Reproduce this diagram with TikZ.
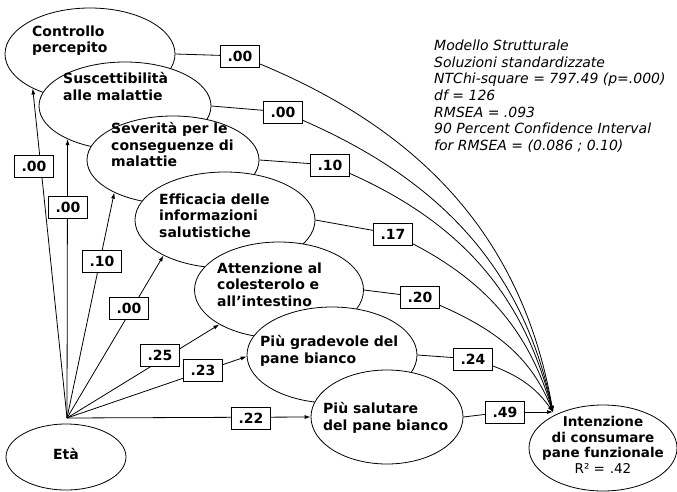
\documentclass[tikz,border=0pt]{standalone}
\usepackage{fontspec}
\setmainfont{DejaVu Sans}[Ligatures=NoCommon]
\usetikzlibrary{shapes.geometric,arrows.meta}
\pgfdeclarelayer{background}
\pgfsetlayers{background,main}
\begin{document}
\begin{tikzpicture}[x=1pt,y=1pt,
  ell/.style={draw,ellipse,fill=white,line width=0.8pt,inner sep=0pt},
  lab/.style={draw,fill=white,line width=0.8pt,minimum width=39pt,minimum height=22pt,inner sep=0pt,font=\fontsize{14}{16}\selectfont\bfseries},
  etxt/.style={anchor=north west,inner sep=0pt,align=left,font=\fontsize{14}{16.5}\selectfont\bfseries},
  conn/.style={line width=0.8pt},
  arr/.style={line width=0.8pt,-{Latex[length=6pt,width=4pt]}}]
\useasboundingbox (0,0) rectangle (677,-492);

% ellipses
\node[ell,minimum width=170pt,minimum height=92pt] (e1) at (90,-54) {};
\node[ell,minimum width=172pt,minimum height=88pt] (e2) at (125,-106) {};
\node[ell,minimum width=172pt,minimum height=88pt] (e3) at (173,-160) {};
\node[ell,minimum width=180pt,minimum height=96pt] (e4) at (225,-220) {};
\node[ell,minimum width=169pt,minimum height=96pt] (e5) at (279,-290) {};
\node[ell,minimum width=170pt,minimum height=96pt] (e6) at (332,-355) {};
\node[ell,minimum width=152pt,minimum height=94pt] (e7) at (387,-417) {};
\node[ell,minimum width=120pt,minimum height=66pt] (eta) at (66,-457) {};
\node[ell,minimum width=148pt,minimum height=86pt] (int) at (603,-448) {};

\coordinate (src) at (67,-418);
\coordinate (T) at (553,-412);

% label boxes
\node[lab] (b1) at (240,-56) {.00};
\node[lab] (b2) at (283,-112) {.00};
\node[lab] (b3) at (330,-165) {.10};
\node[lab] (b4) at (393,-234) {.17};
\node[lab] (b5) at (420,-297) {.20};
\node[lab] (b6) at (473,-359) {.24};
\node[lab] (b7) at (505,-412) {.49};
\node[lab] (l1) at (34,-166) {.00};
\node[lab] (l2) at (68,-207) {.00};
\node[lab] (l3) at (102,-261) {.10};
\node[lab] (l4) at (129,-308) {.00};
\node[lab] (l5) at (160,-355) {.25};
\node[lab] (l6) at (203,-370) {.23};
\node[lab] (l7) at (251,-418) {.22};

\begin{pgfonlayer}{background}
\draw[arr] (src) -- (e1.211);
\draw[arr] (src) -- (e2.210);
\draw[arr] (src) -- (e3.209);
\draw[arr] (src) -- (e4.210);
\draw[arr] (src) -- (e5.210);
\draw[arr] (src) -- (e6.181);
\draw[arr] (src) -- (e7.180);
\draw[conn] (e1.east) -- (b1.center);
\draw[conn] (e2.east) -- (b2.center);
\draw[conn] (e3.east) -- (b3.center);
\draw[conn] (e4.east) -- (b4.center);
\draw[conn] (e5.east) -- (b5.center);
\draw[conn] (e6.east) -- (b6.center);
\draw[conn] (e7.east) -- (b7.center);
\draw[arr] (b1.center) to[out=-21,in=100] (T);
\draw[arr] (b2.center) to[out=-22,in=102] (T);
\draw[arr] (b3.center) to[out=-22,in=104] (T);
\draw[arr] (b4.center) to[out=-25,in=107] (T);
\draw[arr] (b5.center) to[out=-22,in=112] (T);
\draw[arr] (b6.center) to[out=-18,in=125] (T);
\draw[arr] (b7.center) -- (T);
\end{pgfonlayer}

% texts
\node[etxt] (t1) at (32,-25.5) {Controllo\\percepito};
\node[etxt] (t2) at (63,-72.5) {Suscettibilità\\alle malattie};
\node[etxt] (t3) at (111,-122.5) {Severità per le\\conseguenze di\\malattie};
\node[etxt] (t4) at (159,-193.5) {Efficacia delle\\informazioni\\salutistiche};
\node[etxt] (t5) at (217,-262.5) {Attenzione al\\colesterolo e\\all’intestino};
\node[etxt] (t6) at (260,-335.5) {Più gradevole del\\pane bianco};
\node[etxt] (t7) at (323,-402.5) {Più salutare\\del pane bianco};
\node[font=\fontsize{14}{16}\selectfont\bfseries,inner sep=0pt] (t8) at (66,-454) {Età};
\node[anchor=north,inner sep=0pt,align=center,font=\fontsize{13.5}{15.5}\selectfont\bfseries] (t9) at (603,-416.5)
  {Intenzione\\di consumare\\pane funzionale\\{\mdseries R²\hspace{4pt}=\hspace{5pt}.42}};
\node[anchor=north west,inner sep=0pt,align=left,font=\fontsize{14}{16.7}\selectfont\itshape] (info) at (434,-39.5)
  {Modello Strutturale\\Soluzioni standardizzate\\NTChi-square = 797.49 (p=.000)\\df = 126\\RMSEA = .093\\90 Percent Confidence Interval\\for RMSEA = (0.086 ; 0.10)};
\end{tikzpicture}
\end{document}
